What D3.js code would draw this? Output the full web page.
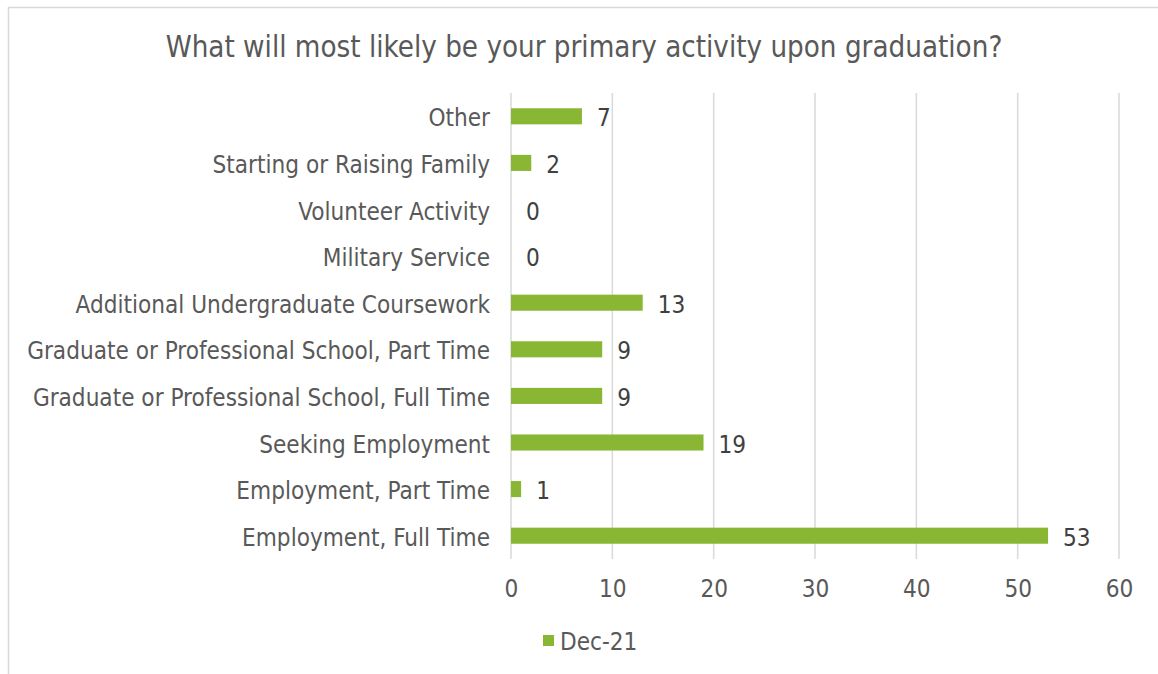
<!DOCTYPE html>
<html><head><meta charset="utf-8">
<script src="https://cdn.jsdelivr.net/npm/d3@7"></script>
<style>body{margin:0;background:#fff}svg{display:block}</style>
</head><body><svg id="c" width="1158" height="674"></svg>
<script>
const title = "What will most likely be your primary activity upon graduation?";
const categories = ["Other","Starting or Raising Family","Volunteer Activity","Military Service","Additional Undergraduate Coursework","Graduate or Professional School, Part Time","Graduate or Professional School, Full Time","Seeking Employment","Employment, Part Time","Employment, Full Time"];
const values = [7,2,0,0,13,9,9,19,1,53];
const xTicks = [0,10,20,30,40,50,60];
const seriesName = "Dec-21";

const FONT = "'DejaVu Sans Condensed', 'DejaVu Sans', sans-serif";
const textColor = "#595959";
const green = "#8ab733";

const svg = d3.select("#c");
svg.append("rect").attr("x",8.5).attr("y",7.5).attr("width",1300).attr("height",800)
  .attr("fill","#fff").attr("stroke","#d9d9d9").attr("stroke-width",1.5);

const x = d3.scaleLinear().domain([0,60]).range([511,1119]);
const y = d3.scaleBand().domain(categories).range([93,559]).paddingInner(0.655).paddingOuter(0.3275);

function fit(str, targetW, base){
  const t = svg.append("text").style("font-family",FONT).style("font-size",base+"px").text(str);
  const w = t.node().getComputedTextLength(); t.remove();
  return base*targetW/w;
}
const labelSize = fit("Graduate or Professional School, Part Time", 463, 20);
const titleSize = fit(title, 837, 26);

svg.append("g").selectAll("line").data(xTicks).join("line")
  .attr("x1",d=>x(d)).attr("x2",d=>x(d)).attr("y1",93).attr("y2",559)
  .attr("stroke","#d9d9d9").attr("stroke-width",1.5);

const xAxis = svg.append("g").attr("transform","translate(0,559)")
  .call(d3.axisBottom(x).tickValues(xTicks).tickSize(0).tickPadding(21));
xAxis.select(".domain").remove();
xAxis.selectAll("text").style("font-family",FONT).style("font-size",labelSize+"px").attr("fill",textColor);

const yAxis = svg.append("g").attr("transform","translate(511,0)")
  .call(d3.axisLeft(y).tickSize(0).tickPadding(21));
yAxis.select(".domain").remove();
yAxis.selectAll("text").style("font-family",FONT).style("font-size",labelSize+"px").attr("fill",textColor).attr("dy","0.42em");

svg.append("g").selectAll("rect").data(categories).join("rect")
  .attr("x",x(0)).attr("y",d=>y(d)).attr("height",y.bandwidth())
  .attr("width",(d,i)=>x(values[i])-x(0)).attr("fill",green);

svg.append("g").selectAll("text").data(categories).join("text")
  .attr("x",(d,i)=>x(values[i])+15).attr("y",d=>y(d)+y.bandwidth()/2).attr("dy","0.42em")
  .style("font-family",FONT).style("font-size",labelSize+"px").attr("fill","#404040")
  .text((d,i)=>values[i]);

svg.append("text").attr("x",584).attr("y",57).attr("text-anchor","middle")
  .style("font-family",FONT).style("font-size",titleSize+"px").attr("fill",textColor).text(title);

const lg = svg.append("g").attr("transform","translate(543,635)");
lg.append("rect").attr("width",11).attr("height",11).attr("fill",green);
lg.append("text").attr("x",17).attr("y",5.5).attr("dy","0.4em")
  .style("font-family",FONT).style("font-size",labelSize+"px").attr("fill",textColor).text(seriesName);
</script></body></html>
